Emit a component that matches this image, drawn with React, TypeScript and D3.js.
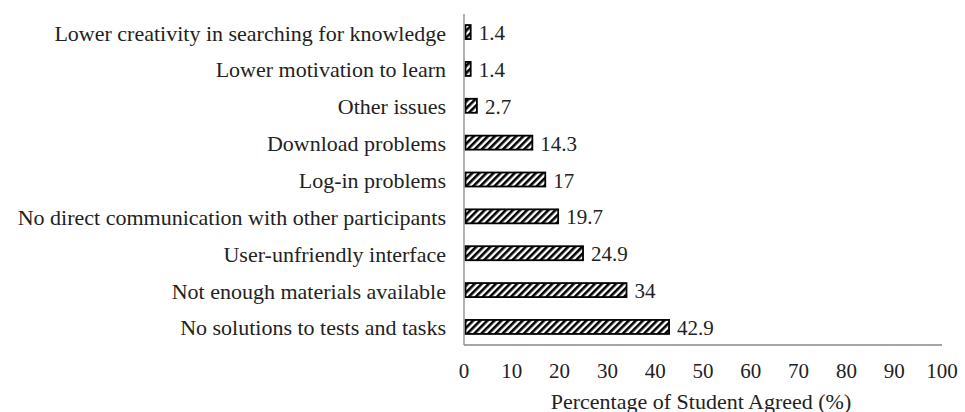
import React from "react";
import * as d3 from "d3";

const categories = [
  "Lower creativity in searching for knowledge",
  "Lower motivation to learn",
  "Other issues",
  "Download problems",
  "Log-in problems",
  "No direct communication with other participants",
  "User-unfriendly interface",
  "Not enough materials available",
  "No solutions to tests and tasks",
];
const values = [1.4, 1.4, 2.7, 14.3, 17, 19.7, 24.9, 34, 42.9];
const xTicks = [0, 10, 20, 30, 40, 50, 60, 70, 80, 90, 100];
const xTitle = "Percentage of Student Agreed (%)";

const W = 965;
const H = 412;
const left = 464;
const right = 942;
const top = 14;
const bottom = 345;
const FONT = "Liberation Serif";

export default function App() {
  const x = d3.scaleLinear().domain([0, 100]).range([left, right]);
  const y = d3.scaleBand<string>().domain(categories).range([top, bottom]).paddingInner(0.62).paddingOuter(0.3);
  const ts = { fontFamily: FONT };
  return (
    <svg width={W} height={H} style={{ position: "absolute", left: 0, top: 0 }}>
      <defs>
        <pattern id="hatch" patternUnits="userSpaceOnUse" width={5} height={5} patternTransform="rotate(45)">
          <rect width={5} height={5} fill="white" />
          <rect x={0} y={0} width={2.6} height={5} fill="black" />
        </pattern>
      </defs>
      <rect width={W} height={H} fill="white" />
      {categories.map((c, i) => {
        const yy = y(c)!;
        const bh = y.bandwidth();
        return (
          <g key={c}>
            <rect x={x(0) + 1.5} y={yy} width={x(values[i]) - x(0) - 1.5} height={bh} fill="url(#hatch)" stroke="black" strokeWidth={1.8} />
            <text x={x(values[i]) + 8} y={yy + bh / 2 + 1} dominantBaseline="central" style={ts} fontSize={21} fill="#222">{values[i]}</text>
            <text x={446} y={yy + bh / 2 + 1} dominantBaseline="central" textAnchor="end" style={ts} fontSize={22} fill="#222">{c}</text>
          </g>
        );
      })}
      <line x1={left} x2={left} y1={top} y2={bottom} stroke="#888" strokeWidth={1.3} />
      <line x1={left} x2={right} y1={bottom} y2={bottom} stroke="#888" strokeWidth={1.3} />
      {xTicks.map((t) => (
        <text key={t} x={x(t)} y={371} textAnchor="middle" dominantBaseline="central" style={ts} fontSize={21} fill="#222">{t}</text>
      ))}
      <text x={(left + right) / 2 - 2} y={401} textAnchor="middle" dominantBaseline="central" style={ts} fontSize={22} fill="#222">{xTitle}</text>
    </svg>
  );
}
